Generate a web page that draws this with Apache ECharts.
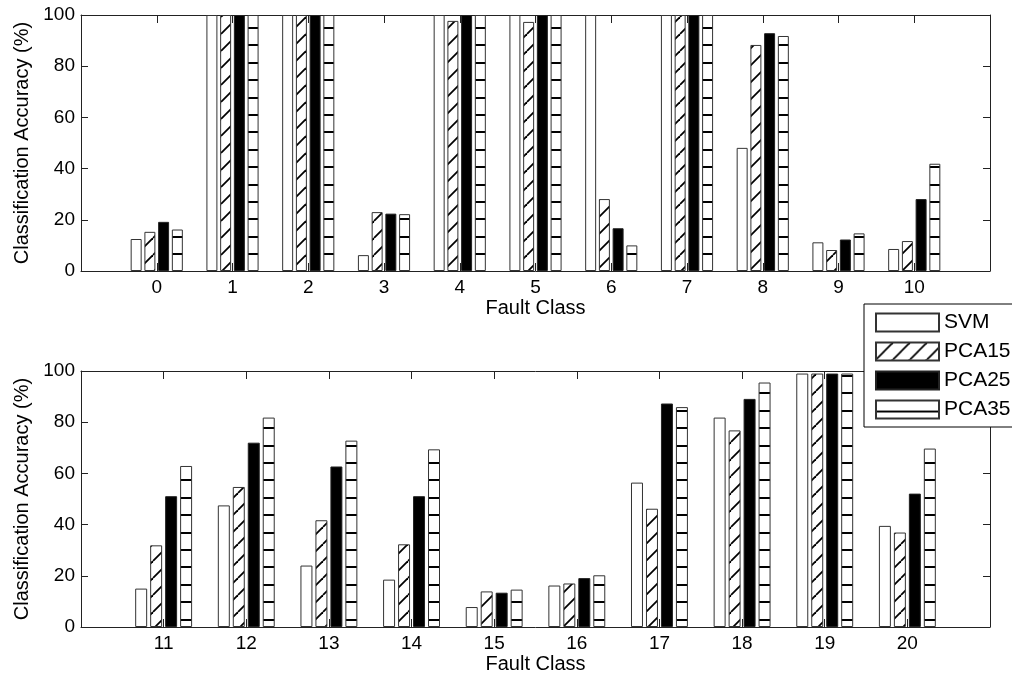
<!DOCTYPE html>
<html>
<head>
<meta charset="utf-8">
<script src="https://cdn.jsdelivr.net/npm/echarts@6/dist/echarts.min.js"></script>
<style>
html,body{margin:0;padding:0;background:#fff;}
#chart{width:1012px;height:685px;}
</style>
</head>
<body>
<div id="chart"></div>
<script>
// ---- data ----
var seriesNames = ['SVM', 'PCA15', 'PCA25', 'PCA35'];
var categoriesTop = ['0','1','2','3','4','5','6','7','8','9','10'];
var categoriesBottom = ['11','12','13','14','15','16','17','18','19','20'];
var yTicks = [0, 20, 40, 60, 80, 100];

var svmTop   = [12.5, 100, 100, 6.2, 100, 100, 100, 100, 48.1, 11.2, 8.6];
var pca15Top = [15.3, 100, 100, 23.0, 97.7, 97.3, 28.1, 100, 88.3, 8.2, 11.7];
var pca25Top = [19.2, 100, 100, 22.4, 100, 100, 16.7, 100, 92.9, 12.3, 28.1];
var pca35Top = [16.2, 100, 100, 22.2, 100, 100, 10.0, 100, 91.8, 14.7, 41.9];

var svmBottom   = [15.0, 47.5, 24.0, 18.5, 7.8, 16.2, 56.4, 81.8, 99.0, 39.5];
var pca15Bottom = [31.9, 54.7, 41.7, 32.3, 13.9, 17.0, 46.2, 76.8, 99.0, 36.9];
var pca25Bottom = [51.1, 72.0, 62.7, 51.1, 13.4, 19.1, 87.3, 89.1, 99.0, 52.1];
var pca35Bottom = [62.9, 81.8, 72.8, 69.4, 14.6, 20.2, 85.9, 95.5, 99.0, 69.7];

// ---- patterns ----
function diagPattern() {
  var c = document.createElement('canvas');
  var W = 17, H = 17;
  c.width = W; c.height = H;
  var g = c.getContext('2d');
  g.fillStyle = '#fff'; g.fillRect(0, 0, W, H);
  g.strokeStyle = '#000'; g.lineWidth = 1.8;
  for (var k = -1; k <= 1; k++) {
    g.beginPath();
    g.moveTo(k * W, H);
    g.lineTo(k * W + W, 0);
    g.stroke();
  }
  return {image: c, repeat: 'repeat'};
}
function horizPattern() {
  var c = document.createElement('canvas');
  var W = 4, H = 87;
  c.width = W; c.height = H;
  var g = c.getContext('2d');
  g.fillStyle = '#fff'; g.fillRect(0, 0, W, H);
  g.fillStyle = '#000';
  for (var k = 0; k < 5; k++) {
    var y = Math.round(10.5 + 17.43 * k) - 1;
    g.fillRect(0, y, W, 2);
  }
  return {image: c, repeat: 'repeat'};
}

var fills = ['#ffffff', diagPattern(), '#000000', horizPattern()];
var borders = ['#333', '#333', '#222', '#333'];

var chart = echarts.init(document.getElementById('chart'), null, {renderer: 'canvas'});

var FONT = 'Liberation Sans';
var axisColor = '#222';
var tickSize = 19;
var nameSize = 20;

function xAxisPair(gridIndex, cats) {
  var first = Number(cats[0]);
  var lo = first - 1, hi = first + cats.length;
  var base = {
    type: 'value', gridIndex: gridIndex, min: lo, max: hi, interval: 1,
    splitLine: {show: false},
    axisLine: {show: true, onZero: false, lineStyle: {color: axisColor, width: 1}},
    axisTick: {show: true, inside: true, length: 8, lineStyle: {color: axisColor}}
  };
  var bottom = Object.assign({}, base, {
    position: 'bottom',
    name: 'Fault Class', nameLocation: 'middle', nameGap: 27,
    nameTextStyle: {fontFamily: FONT, fontSize: nameSize, color: '#000'},
    axisLabel: {
      show: true, margin: 7, fontFamily: FONT, fontSize: tickSize, color: '#000',
      formatter: function (v) {
        var i = Math.round(v - first);
        return (i >= 0 && i < cats.length) ? cats[i] : '';
      }
    }
  });
  var top = Object.assign({}, base, {position: 'top', axisLabel: {show: false}});
  return [bottom, top];
}
function yAxisPair(gridIndex) {
  var base = {
    type: 'value', gridIndex: gridIndex, min: yTicks[0], max: yTicks[yTicks.length - 1],
    interval: yTicks[1] - yTicks[0],
    splitLine: {show: false},
    axisLine: {show: true, onZero: false, lineStyle: {color: axisColor, width: 1}},
    axisTick: {show: true, inside: true, length: 7, lineStyle: {color: axisColor}}
  };
  var left = Object.assign({}, base, {
    position: 'left',
    name: 'Classification Accuracy (%)', nameLocation: 'middle', nameGap: 47,
    nameTextStyle: {fontFamily: FONT, fontSize: nameSize, color: '#000'},
    axisLabel: {show: true, margin: 6, fontFamily: FONT, fontSize: tickSize, color: '#000'}
  });
  var right = Object.assign({}, base, {position: 'right', axisLabel: {show: false}});
  return [left, right];
}

var xAxes = xAxisPair(0, categoriesTop).concat(xAxisPair(1, categoriesBottom));
var yAxes = yAxisPair(0).concat(yAxisPair(1));

function toPoints(cats, vals) {
  return vals.map(function (v, i) { return [Number(cats[i]), v]; });
}

var topData = [svmTop, pca15Top, pca25Top, pca35Top];
var bottomData = [svmBottom, pca15Bottom, pca25Bottom, pca35Bottom];

var series = [];
for (var s = 0; s < 4; s++) {
  series.push({
    type: 'bar', name: seriesNames[s], xAxisIndex: 0, yAxisIndex: 0,
    data: toPoints(categoriesTop, topData[s]),
    barWidth: '14.5%', barGap: '25%',
    itemStyle: {color: fills[s], borderColor: borders[s], borderWidth: 1},
    emphasis: {disabled: true}, animation: false
  });
}
for (var s2 = 0; s2 < 4; s2++) {
  series.push({
    type: 'bar', name: seriesNames[s2], xAxisIndex: 2, yAxisIndex: 2,
    data: toPoints(categoriesBottom, bottomData[s2]),
    barWidth: '14.5%', barGap: '25%',
    itemStyle: {color: fills[s2], borderColor: borders[s2], borderWidth: 1},
    emphasis: {disabled: true}, animation: false
  });
}

var option = {
  animation: false,
  backgroundColor: '#fff',
  grid: [
    {left: 81, right: 22, top: 15, height: 256},
    {left: 81, right: 22, top: 371, height: 256}
  ],
  xAxis: xAxes,
  yAxis: yAxes,
  legend: {
    data: seriesNames,
    orient: 'vertical',
    left: 864, top: 304,
    padding: [8, 10, 7, 11],
    icon: 'rect',
    itemWidth: 63, itemHeight: 18,
    itemGap: 8,
    itemTextGap: 7,
    backgroundColor: '#fff',
    borderColor: '#000', borderWidth: 1,
    selectedMode: false,
    textStyle: {fontFamily: FONT, fontSize: 21, color: '#000', lineHeight: 20},
    z: 10
  },
  series: series
};
chart.setOption(option);
</script>
</body>
</html>
